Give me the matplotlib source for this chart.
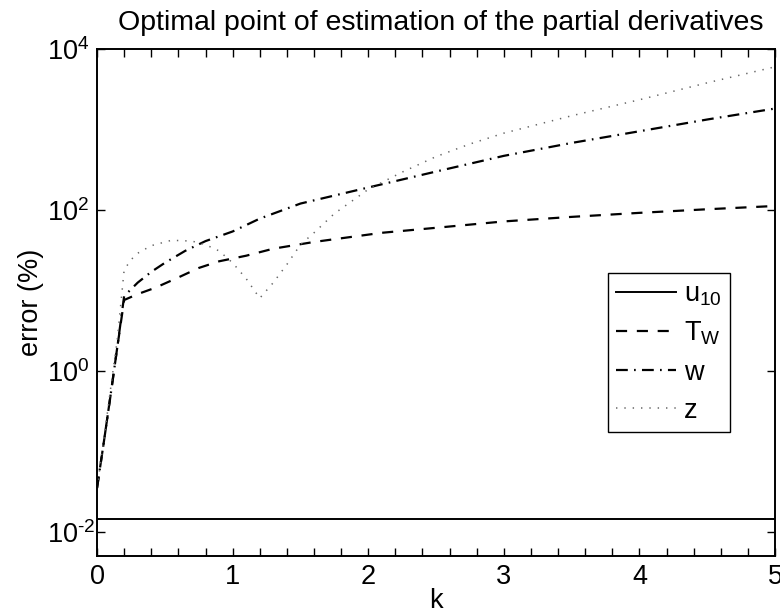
import matplotlib
matplotlib.use("Agg")
import numpy as np
import matplotlib.pyplot as plt
from matplotlib.ticker import FixedLocator, MultipleLocator, NullLocator, FuncFormatter

plt.rcParams['font.family'] = ['Liberation Sans', 'DejaVu Sans']
plt.rcParams['mathtext.fontset'] = 'custom'
plt.rcParams['mathtext.rm'] = 'Liberation Sans'
plt.rcParams['mathtext.it'] = 'Liberation Sans:italic'
plt.rcParams['mathtext.default'] = 'regular'
plt.rcParams['lines.scale_dashes'] = False

# error (%) of each variable versus k
k_u10 = [0.0, 5.0]
err_u10 = [0.0143, 0.0143]

k_tw = [0.0, 0.05, 0.1, 0.15, 0.2, 0.3, 0.43, 0.6, 0.75, 0.9, 1.1, 1.3, 1.6,
        2.1, 2.5, 3.0, 3.5, 4.0, 4.5, 5.0]
err_tw = [0.035, 0.13, 0.5, 2.0, 7.6, 9.0, 10.8, 14.5, 19, 23, 27, 33, 40,
          52, 60, 72, 82, 92, 102, 112]

k_w = [0.0, 0.05, 0.1, 0.15, 0.2, 0.3, 0.4, 0.5, 0.65, 0.8, 1.0, 1.2, 1.5,
       2.0, 2.5, 3.0, 3.5, 4.0, 4.5, 5.0]
err_w = [0.035, 0.13, 0.5, 2.0, 8.5, 12.5, 17, 22, 31, 41, 54, 78, 120,
         190, 300, 470, 680, 950, 1330, 1820]

k_z = [0.0, 0.05, 0.1, 0.15, 0.2, 0.25, 0.3, 0.4, 0.55, 0.7, 0.8, 0.9, 1.0,
       1.1, 1.2, 1.3, 1.4, 1.5, 1.6, 1.75, 2.0, 2.25, 2.5, 2.75, 3.0, 3.5,
       4.0, 4.5, 5.0]
err_z = [0.035, 0.14, 0.6, 2.5, 18, 24, 29, 36, 42, 41, 37, 31, 22,
         14, 8, 12.5, 21, 37, 52, 90, 180, 295, 460, 660, 900, 1480,
         2340, 3800, 6000]

y_decades = [1e-2, 1e0, 1e2, 1e4]
labels = [r'$u_{10}$', r'$T_W$', 'w', 'z']

FS = 19.5


def decade_label(v, pos):
    e = int(round(np.log10(v)))
    exp = ('\u2010%d' % -e) if e < 0 else '%d' % e
    return r'$10^{%s}$' % exp


fig = plt.figure(figsize=(7.8, 6.14), dpi=100)
ax = fig.add_axes([0.1244, 0.0945, 0.8692, 0.8257])

ax.plot(k_u10, err_u10, color='black', lw=1.4, linestyle='-', label=labels[0])
ax.plot(k_tw, err_tw, color='black', lw=1.6, linestyle=(0, (8.0, 7.0)), label=labels[1])
ax.plot(k_w, err_w, color='black', lw=1.6,
        linestyle=(0, (8.5, 4.5, 1.2, 4.5)), label=labels[2])
ax.plot(k_z, err_z, color='0.4', lw=1.1, linestyle=(0, (1.0, 5.0)), label=labels[3])

ax.set_yscale('log')
ax.set_xlim(0, 5)
ax.set_ylim(10 ** -2.3, 1e4)

ax.xaxis.set_major_locator(MultipleLocator(1))
ax.xaxis.set_minor_locator(MultipleLocator(0.2))
ax.yaxis.set_major_locator(FixedLocator(y_decades))
ax.yaxis.set_major_formatter(FuncFormatter(decade_label))
ax.yaxis.set_minor_locator(NullLocator())

ax.tick_params(which='both', direction='in', top=True, right=True,
               length=6, width=1.0, colors='black', labelsize=FS)
ax.tick_params(axis='x', pad=6)
# the "10" of every decade label starts at the same x, exponent hangs right
ax.tick_params(axis='y', pad=36)
for lab in ax.get_yticklabels():
    lab.set_horizontalalignment('left')
for s in ax.spines.values():
    s.set_linewidth(1.4)
    s.set_color('black')

ax.set_title('Optimal point of estimation of the partial derivatives',
             fontsize=FS + 1, pad=14, x=0.507)
ax.set_xlabel('k', fontsize=FS, labelpad=-2)
ax.set_ylabel('error (%)', fontsize=FS, labelpad=2)

leg = ax.legend(loc='upper left', bbox_to_anchor=(608 / 780, 1 - 273 / 614),
                bbox_transform=fig.transFigure, fontsize=FS,
                frameon=True, fancybox=False, framealpha=1,
                edgecolor='black', handlelength=2.2, handletextpad=0.3,
                labelspacing=0.45, borderpad=0.3, borderaxespad=0)
leg.get_frame().set_linewidth(1.0)

fig.savefig('out.png', dpi=100)
